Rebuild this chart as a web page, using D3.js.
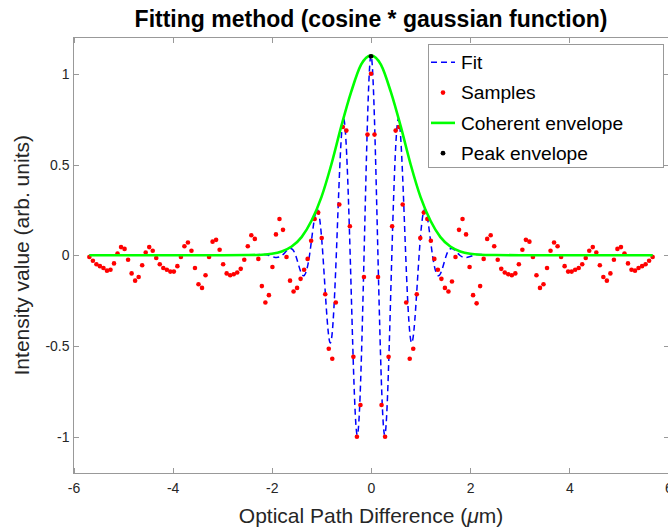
<!DOCTYPE html>
<html lang="en">
<head>
<meta charset="UTF-8">
<title>Fitting method (cosine * gaussian function)</title>
<script src="https://d3js.org/d3.v7.min.js"></script>
<style>
    body {
        margin: 0;
        background: #fff;
        font-family: 'Liberation Sans', Arial, sans-serif;
    }
    .axis path {
        display: none;
    }
    .axis line {
        stroke: #999;
        shape-rendering: crispEdges;
    }
    .axis text {
        font-size: 14px;
        fill: #262626;
    }
    .frame {
        fill: none;
        stroke: #999;
        shape-rendering: crispEdges;
    }
    .label {
        font-size: 21px;
        fill: #262626;
        text-anchor: middle;
    }
    .title {
        font-size: 23px;
        font-weight: bold;
        fill: #000;
        text-anchor: middle;
    }
    .legend text {
        font-size: 19.2px;
        fill: #000;
    }
</style>
</head>
<body>
<svg id="chart"></svg>
<script>
    // Samples (red dots)
    const sampleX = [
        -5.68, -5.609, -5.538, -5.467, -5.396, -5.325, -5.254, -5.183, -5.112, -5.041,
        -4.97, -4.899, -4.828, -4.757, -4.686, -4.615, -4.544, -4.473, -4.402, -4.331,
        -4.26, -4.189, -4.118, -4.047, -3.976, -3.905, -3.834, -3.763, -3.692, -3.621,
        -3.55, -3.479, -3.408, -3.337, -3.266, -3.195, -3.124, -3.053, -2.982, -2.911,
        -2.84, -2.769, -2.698, -2.627, -2.556, -2.485, -2.414, -2.343, -2.272, -2.201,
        -2.13, -2.059, -1.988, -1.917, -1.846, -1.775, -1.704, -1.633, -1.562, -1.491,
        -1.42, -1.349, -1.278, -1.207, -1.136, -1.065, -0.994, -0.923, -0.852, -0.781,
        -0.71, -0.639, -0.568, -0.497, -0.426, -0.355, -0.284, -0.213, -0.142, -0.071,
        0,
        0.071, 0.142, 0.213, 0.284, 0.355, 0.426, 0.497, 0.568, 0.639, 0.71,
        0.781, 0.852, 0.923, 0.994, 1.065, 1.136, 1.207, 1.278, 1.349, 1.42,
        1.491, 1.562, 1.633, 1.704, 1.775, 1.846, 1.917, 1.988, 2.059, 2.13,
        2.201, 2.272, 2.343, 2.414, 2.485, 2.556, 2.627, 2.698, 2.769, 2.84,
        2.911, 2.982, 3.053, 3.124, 3.195, 3.266, 3.337, 3.408, 3.479, 3.55,
        3.621, 3.692, 3.763, 3.834, 3.905, 3.976, 4.047, 4.118, 4.189, 4.26,
        4.331, 4.402, 4.473, 4.544, 4.615, 4.686, 4.757, 4.828, 4.899, 4.97,
        5.041, 5.112, 5.183, 5.254, 5.325, 5.396, 5.467, 5.538, 5.609, 5.68
    ];
    const sampleY = [
        -0.01, -0.03, -0.05, -0.06, -0.07, -0.085, -0.08, -0.045, 0.01, 0.045,
        0.035, -0.025, -0.1, -0.14, -0.12, -0.055, 0.015, 0.045, 0.025, -0.015,
        -0.05, -0.07, -0.08, -0.09, -0.09, -0.06, -0.01, 0.05, 0.07, 0.025,
        -0.07, -0.16, -0.18, -0.11, -0.01, 0.075, 0.085, 0.03, -0.05, -0.1,
        -0.11, -0.105, -0.095, -0.075, -0.025, 0.05, 0.11, 0.09, -0.02, -0.17,
        -0.26, -0.22, -0.065, 0.115, 0.2, 0.14, -0.01, -0.14, -0.2, -0.18,
        -0.13, -0.08, -0.02, 0.08, 0.2, 0.235, 0.095, -0.215, -0.515, -0.57,
        -0.26, 0.28, 0.707, 0.687, 0.16, -0.56, -1.0, -0.825, -0.12, 0.665,
        1.0,
        0.665, -0.12, -0.825, -1.0, -0.56, 0.16, 0.687, 0.707, 0.28, -0.26,
        -0.57, -0.515, -0.215, 0.095, 0.235, 0.2, 0.08, -0.02, -0.08, -0.13,
        -0.18, -0.2, -0.145, -0.01, 0.14, 0.2, 0.115, -0.065, -0.22, -0.265,
        -0.17, -0.02, 0.09, 0.11, 0.05, -0.025, -0.075, -0.095, -0.105, -0.11,
        -0.1, -0.05, 0.03, 0.085, 0.075, -0.01, -0.11, -0.18, -0.16, -0.07,
        0.025, 0.07, 0.05, -0.01, -0.06, -0.09, -0.09, -0.08, -0.07, -0.05,
        -0.015, 0.025, 0.045, 0.015, -0.055, -0.12, -0.14, -0.1, -0.025, 0.035,
        0.045, 0.01, -0.045, -0.08, -0.085, -0.07, -0.06, -0.05, -0.03, -0.01
    ];

    // Fit (blue dashed): extrema and zero crossings
    const fitX = [-5.68, -2.75, -2.48, -2.2, -2.07, -1.93, -1.79, -1.65, -1.52, -1.38,
        -1.24, -1.1, -0.97, -0.83, -0.7, -0.56, -0.42, -0.28, -0.14, 0,
        0.14, 0.28, 0.42, 0.56, 0.7, 0.83, 0.97, 1.1, 1.24, 1.38,
        1.52, 1.65, 1.79, 1.93, 2.07, 2.2, 2.48, 2.75, 5.68];
    const fitY = [0, 0, 0, 0.004, 0, -0.012, 0, 0.035, 0, -0.11,
        0, 0.25, 0, -0.48, 0, 0.75, 0, -0.99, 0, 1.1,
        0, -0.99, 0, 0.75, 0, -0.48, 0, 0.25, 0, -0.11,
        0, 0.035, 0, -0.012, 0, 0.004, 0, 0, 0];

    // Coherent envelope (green)
    const envX = [-5.68, -3, -2.5, -2.2, -2, -1.8, -1.6, -1.4, -1.2, -1, -0.8, -0.6, -0.4, -0.2,
        0, 0.2, 0.4, 0.6, 0.8, 1, 1.2, 1.4, 1.6, 1.8, 2, 2.2, 2.5, 3, 5.68];
    const envY = [0, 0, 0.001, 0.003, 0.008, 0.021, 0.048, 0.1, 0.19, 0.32, 0.5, 0.71, 0.9, 1.05,
        1.1, 1.05, 0.9, 0.71, 0.5, 0.32, 0.19, 0.1, 0.048, 0.021, 0.008, 0.003, 0.001, 0, 0];

    // Peak envelope (black dot)
    const peakX = [0];
    const peakY = [1.096];

    const xTicks = [-6, -4, -2, 0, 2, 4, 6];
    const yTicks = [-1, -0.5, 0, 0.5, 1];
    const legendLabels = ["Fit", "Samples", "Coherent envelope", "Peak envelope"];

    const width = 668;
    const height = 531;
    const plot = { left: 73.5, top: 37.5, right: 668.5, bottom: 473 };

    const svg = d3.select("#chart")
        .attr("width", width)
        .attr("height", height);

    const x = d3.scaleLinear().domain([-6, 6]).range([plot.left, plot.right]);
    const y = d3.scaleLinear().domain([-1.2, 1.2]).range([plot.bottom, plot.top]);

    // Axes, MATLAB style: ticks pointing inward on all four sides
    svg.append("g")
        .attr("class", "axis")
        .attr("transform", `translate(0,${plot.bottom})`)
        .call(d3.axisBottom(x).tickValues(xTicks).tickSize(-5).tickPadding(10).tickFormat(d => String(d)));

    svg.append("g")
        .attr("class", "axis")
        .attr("transform", `translate(0,${plot.top})`)
        .call(d3.axisTop(x).tickValues(xTicks).tickSize(-5).tickFormat(""));

    svg.append("g")
        .attr("class", "axis")
        .attr("transform", `translate(${plot.left},0)`)
        .call(d3.axisLeft(y).tickValues(yTicks).tickSize(-5).tickPadding(4).tickFormat(d => String(d)));

    svg.append("g")
        .attr("class", "axis")
        .attr("transform", `translate(${plot.right},0)`)
        .call(d3.axisRight(y).tickValues(yTicks).tickSize(-5).tickFormat(""));

    svg.append("rect")
        .attr("class", "frame")
        .attr("x", plot.left)
        .attr("y", plot.top)
        .attr("width", plot.right - plot.left)
        .attr("height", plot.bottom - plot.top);

    // Fit
    const fitPts = fitX.map((v, i) => ({ x: v, y: fitY[i] }));
    svg.append("path")
        .datum(fitPts)
        .attr("d", d3.line().x(d => x(d.x)).y(d => y(d.y)).curve(d3.curveNatural))
        .attr("fill", "none")
        .attr("stroke", "#0000ff")
        .attr("stroke-width", 1.5)
        .attr("stroke-dasharray", "6,4");

    // Samples
    const samples = sampleX.map((v, i) => ({ x: v, y: sampleY[i] }));
    svg.append("g")
        .selectAll("circle")
        .data(samples)
        .enter().append("circle")
        .attr("cx", d => x(d.x))
        .attr("cy", d => y(d.y))
        .attr("r", 2.3)
        .attr("fill", "#ff0000");

    // Coherent envelope
    const envPts = envX.map((v, i) => ({ x: v, y: envY[i] }));
    svg.append("path")
        .datum(envPts)
        .attr("d", d3.line().x(d => x(d.x)).y(d => y(d.y)).curve(d3.curveMonotoneX))
        .attr("fill", "none")
        .attr("stroke", "#00ff00")
        .attr("stroke-width", 2.6);

    // Peak envelope
    svg.append("g")
        .selectAll("circle")
        .data(peakX.map((v, i) => ({ x: v, y: peakY[i] })))
        .enter().append("circle")
        .attr("cx", d => x(d.x))
        .attr("cy", d => y(d.y))
        .attr("r", 2.4)
        .attr("fill", "#000");

    // Title and axis labels
    svg.append("text")
        .attr("class", "title")
        .attr("x", (plot.left + plot.right) / 2)
        .attr("y", 26.5)
        .text("Fitting method (cosine * gaussian function)");

    const xLabel = svg.append("text")
        .attr("class", "label")
        .attr("x", (plot.left + plot.right) / 2)
        .attr("y", 523);
    xLabel.append("tspan").text("Optical Path Difference (");
    xLabel.append("tspan").attr("font-style", "italic").text("\u03bc");
    xLabel.append("tspan").text("m)");

    svg.append("text")
        .attr("class", "label")
        .attr("transform", `translate(29,${(plot.top + plot.bottom) / 2})rotate(-90)`)
        .text("Intensity value (arb. units)");

    // Legend
    const legend = svg.append("g").attr("class", "legend");
    legend.append("rect")
        .attr("x", 428)
        .attr("y", 44)
        .attr("width", 235)
        .attr("height", 123)
        .attr("fill", "#fff")
        .attr("stroke", "#999")
        .attr("shape-rendering", "crispEdges");

    const rowY = i => 62.3 + i * 30.3;
    legend.append("line")
        .attr("x1", 431).attr("x2", 455)
        .attr("y1", rowY(0)).attr("y2", rowY(0))
        .attr("stroke", "#0000ff").attr("stroke-width", 1.5).attr("stroke-dasharray", "6,4");
    legend.append("circle")
        .attr("cx", 443).attr("cy", rowY(1)).attr("r", 2.3).attr("fill", "#ff0000");
    legend.append("line")
        .attr("x1", 431).attr("x2", 455)
        .attr("y1", rowY(2)).attr("y2", rowY(2))
        .attr("stroke", "#00ff00").attr("stroke-width", 2.6);
    legend.append("circle")
        .attr("cx", 443).attr("cy", rowY(3)).attr("r", 2.4).attr("fill", "#000");

    legend.selectAll("text.item")
        .data(legendLabels)
        .enter().append("text")
        .attr("class", "item")
        .attr("x", 461)
        .attr("y", (d, i) => rowY(i))
        .attr("dy", "0.35em")
        .text(d => d);
</script>
</body>
</html>
